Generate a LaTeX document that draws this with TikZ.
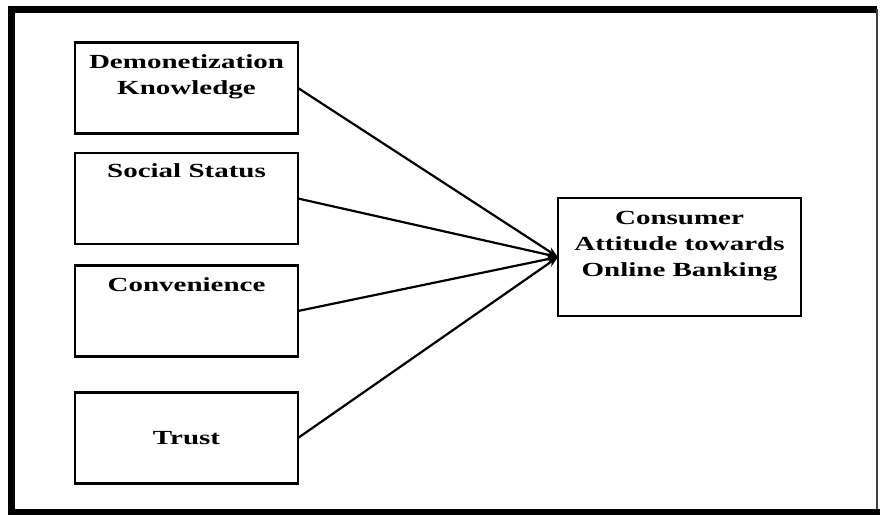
\documentclass[tikz,border=0pt]{standalone}
\usepackage{fontspec}
\setmainfont{Liberation Serif}[FakeStretch=1.45]
\usetikzlibrary{arrows.meta,positioning}

\tikzset{
	factorbox/.style={draw, line width=2.2pt, minimum width=223pt, minimum height=91pt, inner sep=0pt, outer sep=0pt},
	boxtext/.style={font=\fontsize{20}{26}\selectfont\bfseries, align=center, inner sep=0pt, outer sep=0pt},
	link/.style={line width=2.2pt, -{Stealth[length=11pt,width=8pt]}}
}

\begin{document}
\begin{tikzpicture}[x=1pt,y=-1pt]
			%%%%% FRAME %%%%%
			\useasboundingbox (0,0) rectangle (880,514);
			\fill[white] (0,0) rectangle (880,514);
			\draw[line width=7pt] (11.5,514) -- (11.5,9) -- (877,9);
			\draw[line width=2.5pt, color=black!75] (877,9) -- (877,511);
			\draw[line width=6pt] (8,511.5) -- (880,511.5);
			
			%%%%% FACTORS %%%%%
			\node[factorbox] (demo) at (186.5,88) {};
			\node[boxtext, below=12pt of demo.north] (demotext) {Demonetization\\Knowledge};
			
			\node[factorbox] (social) at (186.5,198.5) {};
			\node[boxtext, below=11pt of social.north] (socialtext) {Social Status};
			
			\node[factorbox] (conv) at (186.5,311) {};
			\node[boxtext, below=12pt of conv.north] (convtext) {Convenience};
			
			\node[factorbox, boxtext] (trust) at (186.5,438) {Trust};
			
			%%%%% OUTCOME %%%%%
			\node[factorbox, minimum width=243pt, minimum height=118pt] (attitude) at (679.5,257) {};
			\node[boxtext, below=13pt of attitude.north] (attitudetext) {Consumer\\Attitude towards\\Online Banking};
			
			%%%%% LINKS %%%%%
			\draw[link] (demo.east) -- (attitude.west);
			\draw[link] (social.east) -- (attitude.west);
			\draw[link] (conv.east) -- (attitude.west);
			\draw[link] (trust.east) -- (attitude.west);
\end{tikzpicture}
\end{document}
